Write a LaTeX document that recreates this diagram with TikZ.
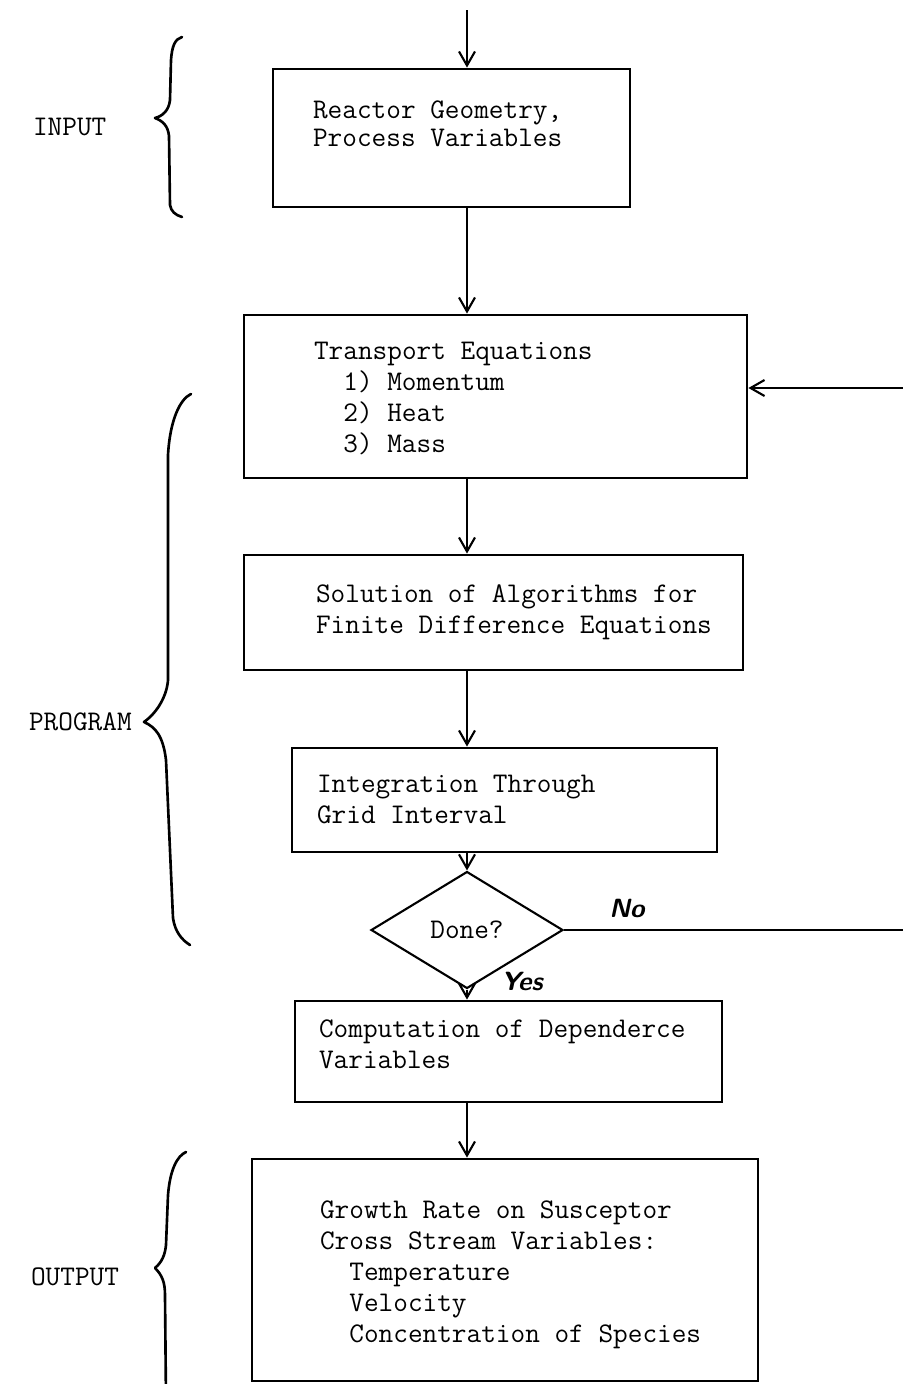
\documentclass[tikz,border=0pt]{standalone}
\usepackage{tikz}
\usetikzlibrary{shapes.geometric,arrows.meta,fit}

\newcommand{\tw}{\ttfamily\fontsize{16.2}{17.6}\selectfont}
\newcommand{\hand}{\sffamily\bfseries\itshape\fontsize{15}{17}\selectfont}

\begin{document}
\begin{tikzpicture}[x=0.02cm, y=-0.02cm, line width=1.2pt,
    >={Straight Barb[length=2.8mm,width=3.2mm]},
    box/.style={draw, line width=1.6pt, inner sep=0pt},
    boxtext/.style={anchor=west, align=left, inner sep=0pt, font=\tw},
    side/.style={anchor=west, inner sep=0pt, font=\tw},
    brace/.style={line width=1.5pt, line cap=round, line join=round}]
    \useasboundingbox (0,0) rectangle (903,1384);
    \coordinate (spine) at (467,10);
    \coordinate (back) at (915,388);

    % input
    \node[box, fit={(273,69) (630,207)}] (geom) {};
    \node[boxtext] (geomtext) at (312,124) {Reactor Geometry,\\[-1.7pt]Process Variables};
    \node[side] (inlabel) at (32,127) {INPUT};
    \draw[brace] (182,37) .. controls (175,39) and (172,46) .. (171,60) -- (170,100)
        .. controls (169,110) and (163,116) .. (155,118)
        .. controls (163,121) and (168,126) .. (169,136) -- (170,205)
        .. controls (171,211) and (175,215) .. (182,217);

    % program
    \node[box, fit={(244,315) (747,478)}] (transport) {};
    \node[boxtext] (transporttext) at (313,398.5) {Transport Equations\\
        \phantom{00}1) Momentum\\ \phantom{00}2) Heat\\ \phantom{00}3) Mass};
    \node[box, fit={(244,555) (743,670)}] (solve) {};
    \node[boxtext] (solvetext) at (315,612.5) {Solution of Algorithms for\\Finite Difference Equations};
    \node[box, fit={(292,748) (717,852)}] (integ) {};
    \node[boxtext] (integtext) at (316,799.5) {Integration Through\\Grid Interval};
    \node[draw, diamond, minimum width=3.84cm, minimum height=2.34cm, inner sep=0pt,
        font=\tw] (done) at (467,930) {Done?};
    \node[side] (proglabel) at (28,722) {PROGRAM};
    \draw[brace] (191,394) .. controls (180,399) and (170,420) .. (168,455) -- (168,680)
        .. controls (167,695) and (158,712) .. (144,722)
        .. controls (155,727) and (163,735) .. (166,760) -- (173,918)
        .. controls (175,932) and (182,940) .. (190,945);

    % output
    \node[box, fit={(295,1001) (722,1102)}] (depend) {};
    \node[boxtext] (dependtext) at (318,1044) {Computation of Dependerce\\Variables};
    \node[box, fit={(252,1159) (758,1381)}] (result) {};
    \node[boxtext] (resulttext) at (319,1275) {Growth Rate on Susceptor\\Cross Stream Variables:\\
        \phantom{00}Temperature\\ \phantom{00}Velocity\\ \phantom{00}Concentration of Species};
    \node[side] (outlabel) at (30,1277) {OUTPUT};
    \draw[brace] (186,1152) .. controls (177,1156) and (170,1170) .. (168,1195) -- (166,1245)
        .. controls (165,1255) and (162,1262) .. (155,1268)
        .. controls (162,1275) and (165,1282) .. (165,1295) -- (166,1400);

    % flow
    \draw[->] (spine) -- (geom.north -| spine);
    \draw[->] (geom.south -| spine) -- (transport.north -| spine);
    \draw[->] (transport.south -| spine) -- (solve.north -| spine);
    \draw[->] (solve.south -| spine) -- (integ.north -| spine);
    \draw[->] (integ.south -| spine) -- (done.north);
    \draw[->] (done.south) -- (depend.north -| spine);
    \draw[->] (depend.south -| spine) -- (result.north -| spine);
    \draw[->] (done.east) -| (back) -- (transport.east |- back);
    \node[font=\hand] (nolabel) at (627,908) {No};
    \node[font=\hand] (yeslabel) at (522,981) {Yes};
\end{tikzpicture}
\end{document}
